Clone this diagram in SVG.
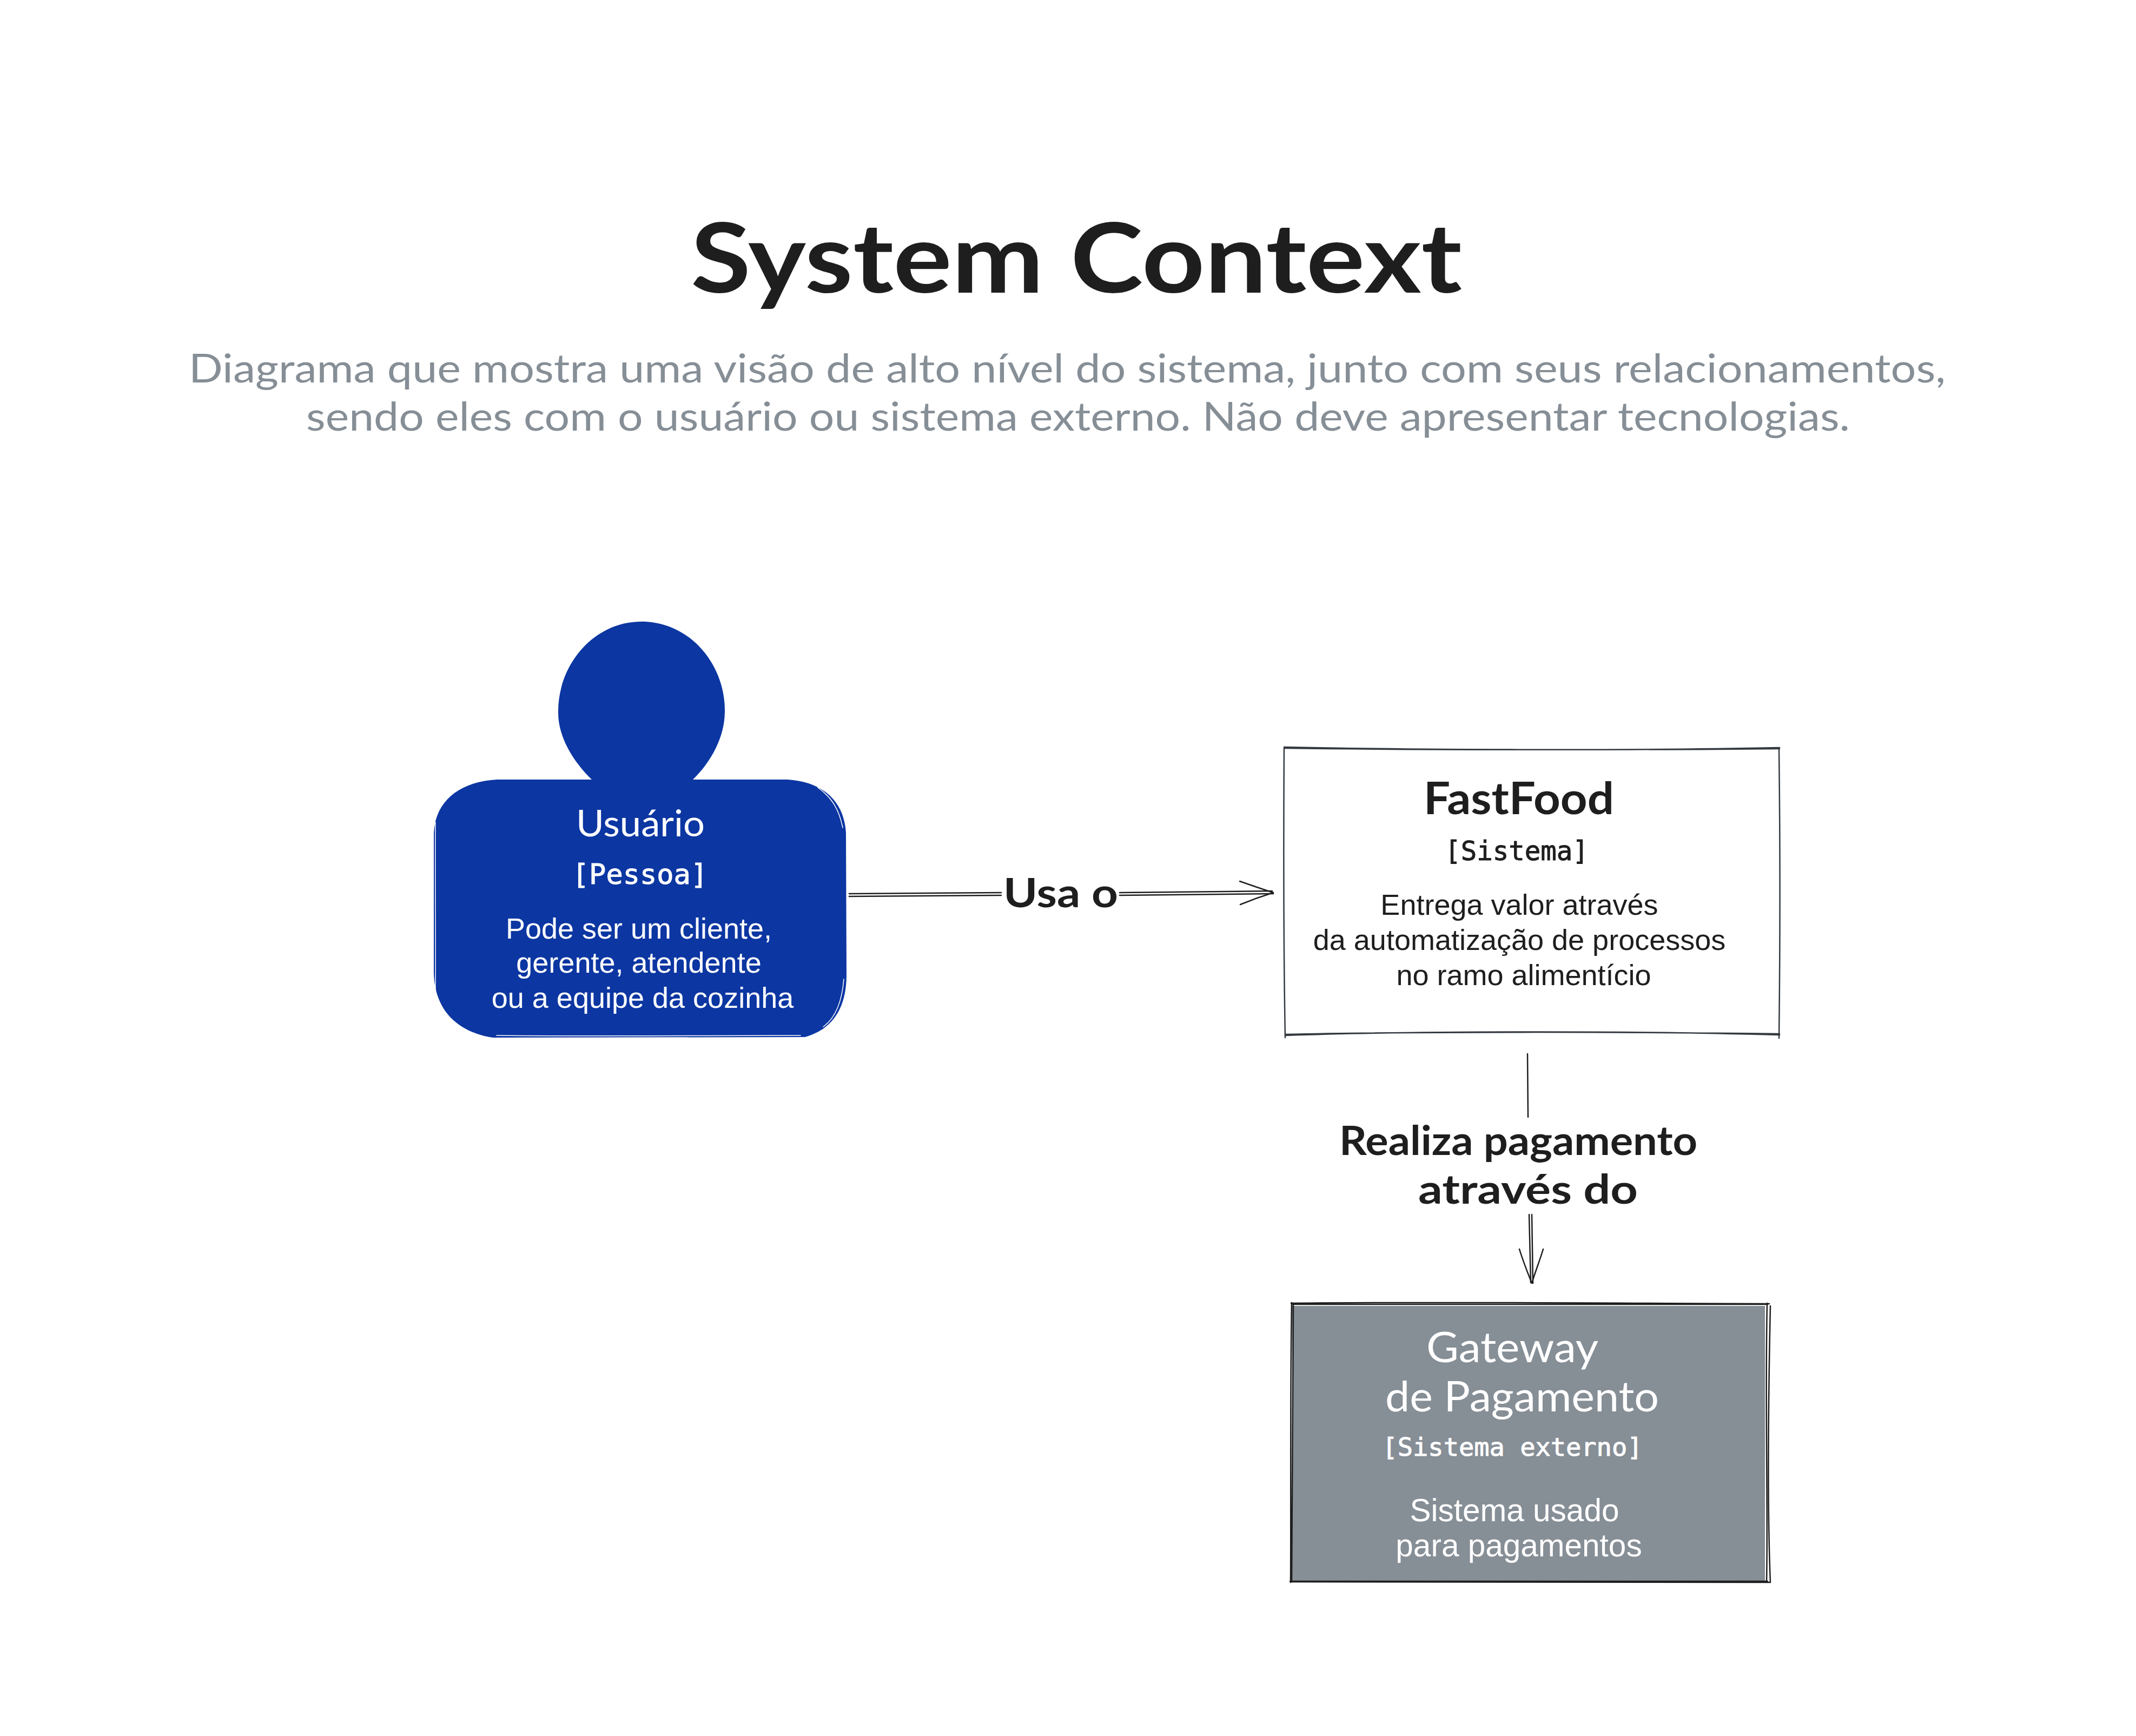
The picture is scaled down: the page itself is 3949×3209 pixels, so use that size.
<svg xmlns="http://www.w3.org/2000/svg" width="3949" height="3209" viewBox="0 0 3949 3209">
<style>
.hand{font-family:"Lato","Noto Sans",sans-serif}
.mono{font-family:"DejaVu Sans Mono","Liberation Mono",monospace;stroke-width:1}
.body{font-family:"Liberation Sans",Arial,sans-serif}
.w{fill:#ffffff}
.mono.w{stroke:#ffffff}
.mono.k{stroke:#1e1e1e}
.k{fill:#1e1e1e}
.g{fill:#868e96}
.ln{fill:none;stroke:#1e1e1e;stroke-width:2.5;stroke-linecap:round;stroke-linejoin:round}
.thin{fill:none;stroke:#1e1e1e;stroke-width:2.5;stroke-linecap:round;stroke-linejoin:round}
.edge{fill:none;stroke:#343a40;stroke-width:2.5;stroke-linecap:round;stroke-linejoin:round}
.blue{fill:#0c36a2}
.wl{fill:none;stroke:#ffffff;stroke-width:1.5;stroke-linecap:round}
</style>
<rect width="3949" height="3209" fill="#ffffff"/>
<g id="title">
<text class="hand k" x="1277" y="541" font-size="178" font-weight="700" textLength="1426" lengthAdjust="spacingAndGlyphs">System Context</text>
</g>
<g id="subtitle">
<text class="hand g" x="349" y="707" font-size="74" textLength="3248" lengthAdjust="spacingAndGlyphs">Diagrama que mostra uma visão de alto nível do sistema, junto com seus relacionamentos,</text>
<text class="hand g" x="566" y="796" font-size="74" textLength="2854" lengthAdjust="spacingAndGlyphs">sendo eles com o usuário ou sistema externo. Não deve apresentar tecnologias.</text>
</g>
<g id="connectors">
<path class="ln" d="M1570 1652 L1851 1650 M1570 1657 L1851 1655"/>
<path class="ln" d="M2070 1650 L2352 1647 M2070 1655 L2354 1652"/>
<path class="ln" d="M2292 1629 C2315 1637 2335 1644 2354 1650 C2335 1656 2315 1663 2293 1672"/>
<text class="hand k" x="1855" y="1677" font-size="74" font-weight="700" textLength="212" lengthAdjust="spacingAndGlyphs">Usa o</text>
<path class="thin" d="M2824 1948 L2825 2065"/>
<path class="thin" d="M2827 2245 L2830 2371 M2832 2245 L2834 2372"/>
<path class="thin" d="M2809 2309 C2816 2332 2824 2352 2832 2372 C2838 2352 2846 2332 2853 2309"/>
<text class="hand k" x="2476" y="2135" font-size="74" font-weight="700" textLength="662" lengthAdjust="spacingAndGlyphs">Realiza pagamento</text>
<text class="hand k" x="2622" y="2225" font-size="74" font-weight="700" textLength="406" lengthAdjust="spacingAndGlyphs">através do</text>
</g>
<g id="usuario">
<path class="blue" d="M1186 1149 C1275 1149 1341 1228 1340 1315 C1340 1362 1315 1408 1281 1441 L1456 1441 C1520 1445 1561 1480 1564 1540 L1565 1804 C1564 1875 1530 1905 1488 1917 L911 1918 C860 1910 805 1880 802 1800 L802 1540 C805 1480 850 1445 919 1441 L1094 1441 C1060 1408 1031 1362 1032 1315 C1032 1228 1098 1149 1186 1149 Z"/>
<path class="wl" d="M805 1520 C804 1620 806 1740 805 1830 M918 1914 C1100 1916 1300 1914 1480 1914 M1512 1456 C1540 1475 1552 1500 1558 1530 M1560 1810 C1556 1860 1540 1885 1522 1898"/>
<text class="hand w" x="1065" y="1546" font-size="68" textLength="238" lengthAdjust="spacingAndGlyphs">Usuário</text>
<text class="mono w" x="1183" y="1634" font-size="52" text-anchor="middle">[Pessoa]</text>
<text class="body w" x="1181" y="1735" font-size="54" text-anchor="middle">Pode ser um cliente,</text>
<text class="body w" x="1181" y="1798" font-size="54" text-anchor="middle">gerente, atendente</text>
<text class="body w" x="1188" y="1863" font-size="54" text-anchor="middle">ou a equipe da cozinha</text>
</g>
<g id="fastfood">
<path class="edge" d="M2374 1381 C2600 1386 3000 1388 3290 1382 M2374 1383 C2600 1386 3000 1387 3290 1384"/>
<path class="edge" d="M2376 1914 C2600 1906 3000 1905 3290 1913 M2376 1912 C2600 1907 3000 1907 3290 1911"/>
<path class="edge" d="M2374 1383 C2373 1550 2373 1750 2376 1918 M3289 1385 C3291 1550 3291 1750 3289 1919"/>
<text class="hand k" x="2632" y="1505" font-size="82" font-weight="700" textLength="352" lengthAdjust="spacingAndGlyphs">FastFood</text>
<text class="mono k" x="2804" y="1590" font-size="49" text-anchor="middle">[Sistema]</text>
<text class="body k" x="2809" y="1691" font-size="54" text-anchor="middle">Entrega valor através</text>
<text class="body k" x="2809" y="1756" font-size="54" text-anchor="middle">da automatização de processos</text>
<text class="body k" x="2817" y="1821" font-size="54" text-anchor="middle">no ramo alimentício</text>
</g>
<g id="gateway">
<rect x="2389" y="2414" width="874" height="508" fill="#868e96"/>
<path class="thin" d="M2387 2409 C2650 2406 2950 2409 3271 2410 M2389 2411 C2650 2409 2950 2409 3268 2411"/>
<path class="thin" d="M2385 2923 C2650 2925 2950 2925 3268 2923 M2388 2924 C2650 2922 2950 2926 3272 2925"/>
<path class="thin" d="M2388 2408 C2385 2600 2387 2800 2386 2925 M2391 2412 C2390 2600 2390 2800 2388 2924"/>
<path class="thin" d="M3267 2409 C3263 2600 3269 2800 3266 2924 M3273 2414 C3269 2600 3267 2780 3273 2925"/>
<text class="hand w" x="2637" y="2518" font-size="78" textLength="318" lengthAdjust="spacingAndGlyphs">Gateway</text>
<text class="hand w" x="2561" y="2609" font-size="78" textLength="506" lengthAdjust="spacingAndGlyphs">de Pagamento</text>
<text class="mono w" x="2796" y="2691" font-size="47" text-anchor="middle">[Sistema externo]</text>
<text class="body w" x="2800" y="2812" font-size="58.5" text-anchor="middle">Sistema usado</text>
<text class="body w" x="2808" y="2877" font-size="58.5" text-anchor="middle">para pagamentos</text>
</g>
</svg>
